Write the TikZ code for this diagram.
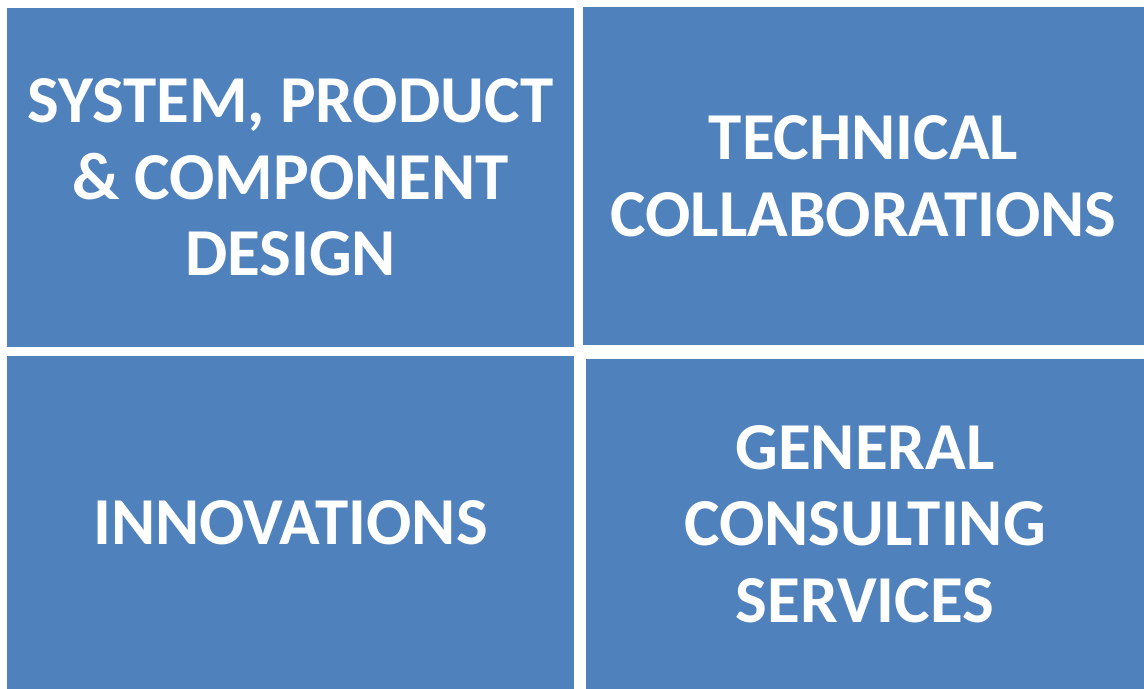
\documentclass[tikz,border=0pt]{standalone}
\usepackage{fontspec}
\setmainfont{Carlito}
\definecolor{tileblue}{HTML}{4F81BD}

\begin{document}
\begin{tikzpicture}[x=0.025cm, y=-0.025cm,
        tile/.style = {fill = tileblue, draw = none, inner sep = 0pt, align = center,
            text = white, font = \fontsize{47.7}{54.5}\selectfont\bfseries}]
        \useasboundingbox (0, 0) rectangle (1144, 689);

        % Tiles
        \node [tile, minimum width = 14.175cm, minimum height = 8.475cm] (design) at (290.5, 177.5) {SYSTEM, PRODUCT\\\& COMPONENT\\DESIGN};
        \node [tile, minimum width = 14.025cm, minimum height = 8.45cm] (collab) at (863.5, 176) {TECHNICAL\\COLLABORATIONS};
        \node [tile, minimum width = 14.175cm, minimum height = 8.325cm] (innov) at (290.5, 522.5) {INNOVATIONS};
        \node [tile, minimum width = 13.95cm, minimum height = 8.25cm] (consult) at (865, 524) {GENERAL\\CONSULTING\\SERVICES};

    \end{tikzpicture}
\end{document}
